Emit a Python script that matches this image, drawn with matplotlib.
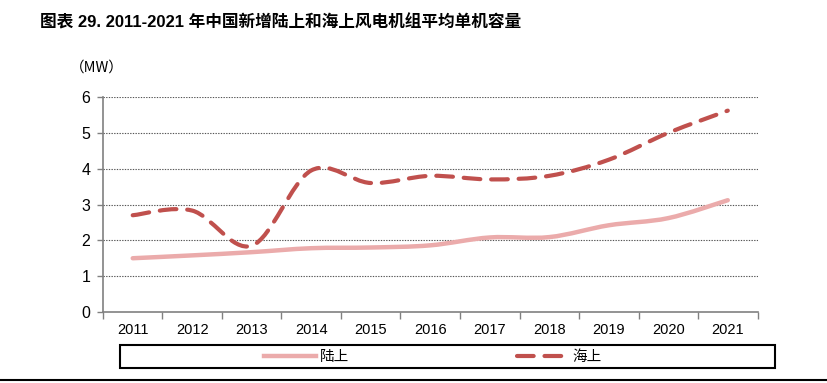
import numpy as np
import matplotlib.pyplot as plt
from matplotlib.path import Path
from matplotlib.patches import PathPatch, Rectangle
from matplotlib.lines import Line2D

plt.rcParams['font.family'] = ['Liberation Sans', 'Noto Sans CJK SC', 'DejaVu Sans']

years = ['2011', '2012', '2013', '2014', '2015', '2016', '2017', '2018', '2019', '2020', '2021']
onshore = [1.50, 1.58, 1.67, 1.78, 1.80, 1.86, 2.08, 2.09, 2.42, 2.62, 3.12]
offshore = [2.70, 2.83, 1.85, 3.95, 3.60, 3.80, 3.70, 3.80, 4.25, 5.00, 5.62]
yticks = [0, 1, 2, 3, 4, 5, 6]

c_on = '#EBABAB'
c_off = '#C0504D'


def smooth_path(xs, ys):
    # excel-like smoothed line: cubic bezier through the points
    p = np.column_stack([xs, ys]).astype(float)
    n = len(p)
    verts = [p[0]]
    codes = [Path.MOVETO]
    for i in range(n - 1):
        p0 = p[i - 1] if i > 0 else p[i]
        p3 = p[i + 2] if i + 2 < n else p[i + 1]
        c1 = p[i] + (p[i + 1] - p0) / 6
        c2 = p[i + 1] - (p3 - p[i]) / 6
        verts += [c1, c2, p[i + 1]]
        codes += [Path.CURVE4] * 3
    return Path(verts, codes)


fig = plt.figure(figsize=(8.27, 3.83), dpi=100)
ax = fig.add_axes([0.1245, 0.1854, 0.7915, 0.5613])

x = np.arange(len(years))
ax.add_patch(PathPatch(smooth_path(x, onshore), fill=False, edgecolor=c_on,
                       lw=3.2, capstyle='round', joinstyle='round', zorder=3))
ax.add_patch(PathPatch(smooth_path(x, offshore), fill=False, edgecolor=c_off,
                       lw=3.0, linestyle=(0, (4.0, 2.6)), capstyle='round', zorder=4))

ax.set_xlim(-0.5, len(years) - 0.5)
ax.set_ylim(0, 6)
ax.set_yticks(yticks)
for v in yticks[1:]:
    ax.axhline(v, color='#555555', lw=0.8, linestyle=(0, (1.2, 1.2)), zorder=1)

ax.set_xticks(x)
ax.set_xticklabels(years, fontsize=10.5)
ax.set_xticks(np.arange(-0.5, len(years)), minor=True)
ax.tick_params(axis='x', which='major', length=0, pad=8)
ax.tick_params(axis='x', which='minor', length=5, width=1, color='#808080', direction='out')
ax.tick_params(axis='y', length=4, width=1, color='#808080', labelsize=11.5, pad=5)

for s in ['top', 'right']:
    ax.spines[s].set_visible(False)
for s in ['left', 'bottom']:
    ax.spines[s].set_color('#808080')
    ax.spines[s].set_linewidth(1.2)

fig.text(70 / 827, 1 - 68 / 383, '（MW）', fontsize=10.5, va='center', ha='left',
         family=['Noto Sans CJK SC', 'DejaVu Sans'])
fig.text(40 / 827, 1 - 22 / 383, '图表 29. 2011-2021 年中国新增陆上和海上风电机组平均单机容量',
         fontsize=12, fontweight='bold', va='center', ha='left',
         family=['Liberation Sans', 'Noto Sans CJK SC', 'DejaVu Sans'])

# legend box
fig.patches.append(Rectangle((120 / 827, 1 - 368 / 383), 655 / 827, 23 / 383,
                             transform=fig.transFigure, fill=False, edgecolor='black', lw=1.5))
handles = [Line2D([], [], color=c_on, lw=3.2),
           Line2D([], [], color=c_off, lw=3.0, linestyle=(0, (4.0, 2.6)), dash_capstyle='round')]
leg = fig.legend(handles, ['陆上', '海上'], loc='center', bbox_to_anchor=(433 / 827, 1 - 357 / 383),
                 ncol=2, frameon=False, handlelength=3.5, columnspacing=11.5, handletextpad=0.3,
                 prop={'family': ['Noto Sans CJK SC', 'DejaVu Sans'], 'size': 10.5})

fig.add_artist(Line2D([0, 1], [1 - 380 / 383, 1 - 380 / 383], transform=fig.transFigure,
                      color='black', lw=1.5))

fig.savefig('out.png', dpi=100)
